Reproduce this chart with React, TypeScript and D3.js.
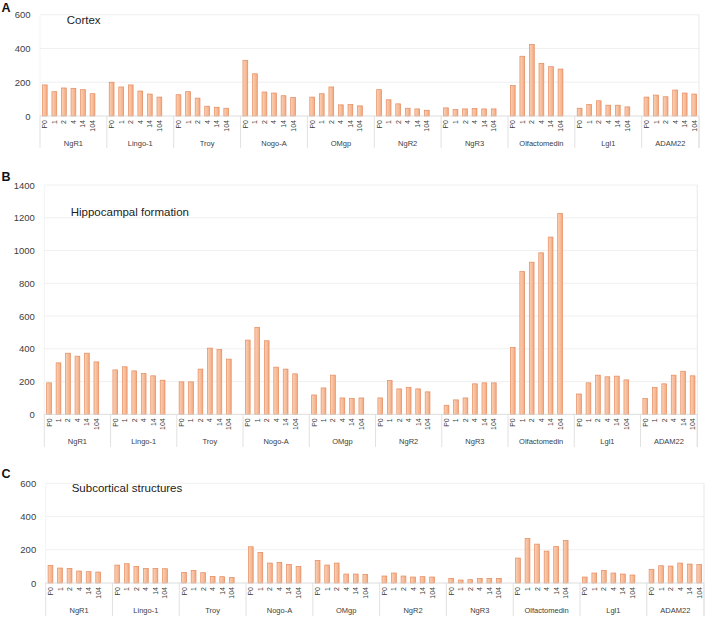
import * as d3 from "d3";

// categories
const genes = ["NgR1", "Lingo-1", "Troy", "Nogo-A", "OMgp", "NgR2", "NgR3", "Olfactomedin", "Lgl1", "ADAM22"];
const ages = ["P0", "1", "2", "4", "14", "104"];

// values per gene, one entry per age (P0, 1, 2, 4, 14, 104)
const cortex = [
    [184, 144, 166, 164, 156, 132],
    [200, 172, 184, 148, 130, 112],
    [126, 144, 106, 58, 52, 46],
    [330, 250, 142, 136, 120, 110],
    [112, 132, 172, 66, 68, 60],
    [156, 96, 72, 46, 42, 34],
    [48, 38, 42, 44, 42, 42],
    [180, 354, 424, 312, 292, 278],
    [46, 68, 90, 64, 64, 54],
    [112, 124, 114, 154, 136, 130],
];
const hippocampus = [
    [192, 314, 373, 355, 373, 320],
    [271, 290, 265, 249, 235, 208],
    [198, 198, 276, 404, 396, 337],
    [453, 531, 449, 288, 276, 247],
    [118, 161, 239, 100, 96, 100],
    [100, 206, 155, 165, 155, 137],
    [55, 88, 100, 186, 192, 192],
    [408, 871, 929, 986, 1082, 1227],
    [124, 192, 239, 229, 233, 210],
    [96, 163, 186, 239, 263, 235],
];
const subcortical = [
    [106, 90, 88, 72, 68, 66],
    [108, 116, 100, 88, 88, 86],
    [64, 76, 62, 40, 38, 34],
    [218, 184, 120, 124, 112, 100],
    [136, 108, 120, 54, 54, 52],
    [42, 60, 42, 36, 38, 36],
    [28, 18, 20, 28, 28, 28],
    [150, 268, 234, 192, 220, 256],
    [36, 60, 76, 60, 54, 48],
    [82, 104, 102, 120, 114, 112],
];

const cortexTicks = [0, 200, 400, 600];
const hippocampusTicks = [0, 200, 400, 600, 800, 1000, 1200, 1400];
const subcorticalTicks = [0, 200, 400, 600];

const FONT = "'Liberation Sans', Arial, sans-serif";
const SLOTS = genes.length * 7 - 1; // 6 ages + one blank slot between genes

interface PanelProps {
    letter: string;
    letterY: number;
    title: string;
    titleX: number;
    titleY: number;
    values: number[][];
    ticks: number[];
    left: number;
    right: number;
    top: number;
    zero: number;
    groupY: number;
    bottom: number;
}

function Panel(p: PanelProps) {
    const x = d3
        .scaleBand<number>()
        .domain(d3.range(SLOTS))
        .range([p.left, p.right])
        .paddingInner(0.5)
        .paddingOuter(0.25);
    const step = x.step();
    const half = (step - x.bandwidth()) / 2;
    const y = d3
        .scaleLinear()
        .domain([0, p.ticks[p.ticks.length - 1]])
        .range([p.zero, p.top]);

    const slotStart = (s: number) => (x(s) ?? 0) - half;
    const bounds = genes.map((_, g) => slotStart(g * 7)).concat([p.right]);

    return (
        <g>
            <text x={1.5} y={p.letterY} fontSize={12.5} fontWeight="bold" fontFamily="Arial, sans-serif" fill="#111">
                {p.letter}
            </text>
            {p.ticks.map((t) => (
                <g key={t}>
                    {t > 0 && <line x1={p.left} x2={p.right} y1={y(t)} y2={y(t)} stroke="#ececec" strokeWidth={0.8} />}
                    <text
                        x={p.left - 9.5}
                        y={y(t)}
                        textAnchor="end"
                        dominantBaseline="central"
                        fontSize={9.5}
                        fontFamily={FONT}
                        fill="#404040"
                    >
                        {t}
                    </text>
                </g>
            ))}
            <text x={p.titleX} y={p.titleY} dominantBaseline="central" fontSize={11.5} fontFamily={FONT} fill="#222">
                {p.title}
            </text>
            <line x1={p.right} x2={p.right} y1={p.top} y2={p.bottom} stroke="#e2e2e2" strokeWidth={0.8} />
            <line x1={p.left} x2={p.left} y1={p.top} y2={p.zero} stroke="#f0f0f0" strokeWidth={0.8} />
            {p.values.map((row, g) =>
                row.map((v, i) => {
                    const s = g * 7 + i;
                    return (
                        <rect
                            key={`${g}-${i}`}
                            x={x(s)}
                            y={y(v)}
                            width={x.bandwidth()}
                            height={p.zero - y(v)}
                            fill="url(#barFill)"
                            stroke="#e48a5d"
                            strokeWidth={0.7}
                        />
                    );
                })
            )}
            <line x1={p.left} x2={p.right} y1={p.zero} y2={p.zero} stroke="#d4d4d4" strokeWidth={0.8} />
            {genes.map((gene, g) =>
                ages.map((a, i) => {
                    const cx = (x(g * 7 + i) ?? 0) + x.bandwidth() / 2;
                    return (
                        <text
                            key={`${gene}-${a}`}
                            transform={`translate(${cx},${p.zero + 4}) rotate(-90)`}
                            textAnchor="end"
                            dominantBaseline="central"
                            fontSize={7}
                            fontFamily={FONT}
                            fill="#404040"
                        >
                            {a}
                        </text>
                    );
                })
            )}
            {bounds.map((bx, i) => (
                <line key={i} x1={bx} x2={bx} y1={p.zero} y2={p.bottom} stroke="#d9d9d9" strokeWidth={0.8} />
            ))}
            {genes.map((gene, g) => (
                <text
                    key={gene}
                    x={(bounds[g] + bounds[g + 1]) / 2}
                    y={p.groupY}
                    textAnchor="middle"
                    dominantBaseline="central"
                    fontSize={7.5}
                    fontFamily={FONT}
                    fill="#404040"
                >
                    {gene}
                </text>
            ))}
        </g>
    );
}

export default function App() {
    return (
        <svg
            width={708}
            height={618}
            style={{ position: "absolute", left: 0, top: 0, background: "#fff" }}
        >
            <defs>
                <linearGradient id="barFill" x1="0" x2="1" y1="0" y2="0">
                    <stop offset="0%" stopColor="#fbd3b9" />
                    <stop offset="100%" stopColor="#f4a97f" />
                </linearGradient>
            </defs>
            <Panel
                letter="A"
                letterY={11.7}
                title="Cortex"
                titleX={66.7}
                titleY={19.5}
                values={cortex}
                ticks={cortexTicks}
                left={40}
                right={699}
                top={14.7}
                zero={116}
                groupY={143}
                bottom={148}
            />
            <Panel
                letter="B"
                letterY={180.7}
                title="Hippocampal formation"
                titleX={70.7}
                titleY={212.3}
                values={hippocampus}
                ticks={hippocampusTicks}
                left={44.3}
                right={697.3}
                top={185}
                zero={414.3}
                groupY={441.7}
                bottom={447}
            />
            <Panel
                letter="C"
                letterY={478}
                title="Subcortical structures"
                titleX={71.7}
                titleY={488.3}
                values={subcortical}
                ticks={subcorticalTicks}
                left={45.7}
                right={704}
                top={483.3}
                zero={583}
                groupY={610}
                bottom={616}
            />
        </svg>
    );
}
